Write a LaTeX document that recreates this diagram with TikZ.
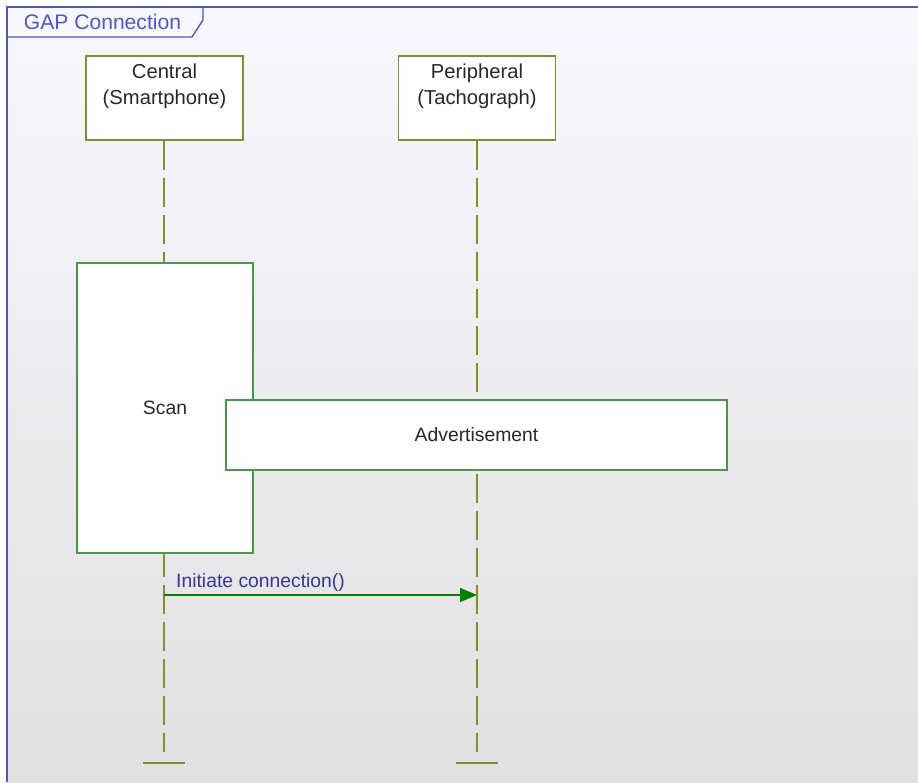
\documentclass[tikz,border=0pt]{standalone}
\usepackage{fontspec}
\setmainfont{Liberation Sans}
\usepackage{tikz}
\definecolor{frameblue}{RGB}{85,85,200}
\definecolor{oliveline}{RGB}{135,140,45}
\definecolor{actgreen}{RGB}{75,150,75}
\definecolor{msggreen}{RGB}{0,130,0}
\definecolor{msgtext}{RGB}{55,55,150}
\definecolor{boxtext}{RGB}{40,40,40}
\usetikzlibrary{arrows.meta}

\begin{document}
\begin{tikzpicture}[
    lifebox/.style={draw=oliveline, fill=white, line width=0.8pt, align=center,
        minimum width=3.14cm, minimum height=1.68cm, text=boxtext,
        font=\fontsize{11.5}{14.7}\selectfont},
    actbox/.style={draw=actgreen, fill=white, line width=0.8pt, text=boxtext,
        font=\fontsize{11}{14}\selectfont},
    lifeline/.style={draw=oliveline, line width=0.8pt, dash pattern=on 0.58cm off 0.16cm},
    endbar/.style={draw=oliveline, line width=0.8pt}
]
            \useasboundingbox (0,0) rectangle (18.36,-15.64);
            % 
            \shade[top color=white!97!blue, bottom color=black!12] (0.14,-0.14) rectangle (18.36,-15.64);
            \draw[frameblue, line width=1.4pt] (18.36,-0.14) -- (0.14,-0.14) -- (0.14,-15.64);
            \draw[frameblue, line width=0.8pt] (0.14,-0.74) -- (3.84,-0.74) -- (4.06,-0.40) -- (4.06,-0.14);
            \node[text=frameblue, font=\fontsize{12}{14}\selectfont] (tab) at (2.05,-0.44) {GAP Connection};

            % 
            \node[lifebox] (central) at (3.29,-1.96) {Central\\(Smartphone)\\[-0.12cm] \strut};
            \node[lifebox] (periph) at (9.54,-1.96) {Peripheral\\(Tachograph)\\[-0.12cm] \strut};

            \coordinate (cend) at (3.28,-15.04);
            \coordinate (pend) at (9.54,-15.04);
            \draw[lifeline] (central.south -| cend) -- (cend);
            \draw[lifeline] (periph.south -| pend) -- (pend);
            \draw[endbar] (2.86,-15.26) -- (3.70,-15.26);
            \draw[endbar] (9.12,-15.26) -- (9.96,-15.26);

            % 
            \node[actbox, minimum width=3.52cm, minimum height=5.80cm] (scan) at (3.30,-8.16) {Scan};
            \node[actbox, minimum width=10.02cm, minimum height=1.40cm] (adv) at (9.53,-8.70) {Advertisement};

            % Initiate connection
            \coordinate (ca) at (3.28,-11.90);
            \coordinate (pa) at (9.54,-11.90);
            \draw[msggreen, line width=0.8pt, -{Triangle[length=0.34cm, width=0.28cm]}] (ca) -- (pa);
            \node[text=msgtext, anchor=west, font=\fontsize{11}{14}\selectfont] (msg) at (3.40,-11.64) {Initiate connection()};

        \end{tikzpicture}
\end{document}
